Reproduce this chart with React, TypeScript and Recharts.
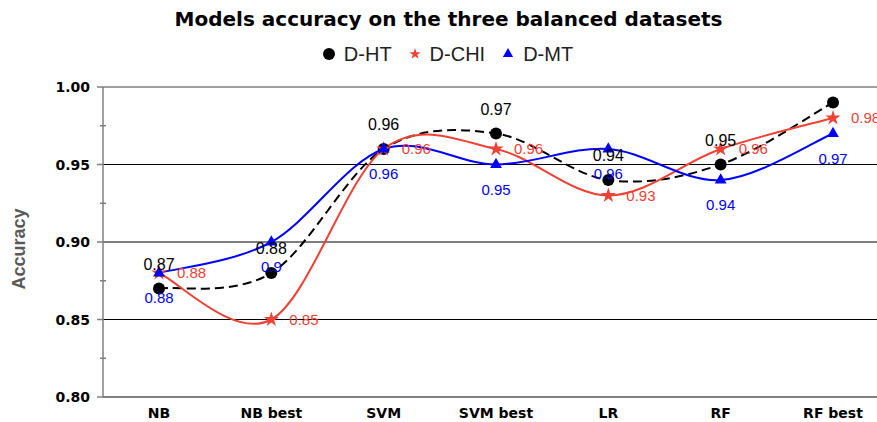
import React from 'react';
import { LineChart, Line, XAxis, YAxis, ReferenceLine, LabelList, Symbols } from 'recharts';

// values
const categories = ['NB', 'NB best', 'SVM', 'SVM best', 'LR', 'RF', 'RF best'];
const dHT = [0.87, 0.88, 0.96, 0.97, 0.94, 0.95, 0.99];
const dCHI = [0.88, 0.85, 0.96, 0.96, 0.93, 0.96, 0.98];
const dMT = [0.88, 0.9, 0.96, 0.95, 0.96, 0.94, 0.97];
const htLabelShown = [true, true, true, true, true, true, false];

const yTicks = [0.8, 0.825, 0.85, 0.875, 0.9, 0.925, 0.95, 0.975, 1.0];
const yMajor = [0.8, 0.85, 0.9, 0.95, 1.0];
const gridLines = [0.85, 0.9, 0.95];

const BLACK = '#000000';
const RED = '#EF4136';
const BLUE = '#0000FF';
const AXIS_GRAY = '#7f7f7f';

const data = categories.map((name, i) => ({ name, ht: dHT[i], chi: dCHI[i], mt: dMT[i] }));

// Excel-like smoothed line (catmull-rom style bezier through every point)
const excelSmooth = (context: any) => {
  let pts: number[][] = [];
  return {
    areaStart() {},
    areaEnd() {},
    lineStart() {
      pts = [];
    },
    point(x: number, y: number) {
      pts.push([+x, +y]);
    },
    lineEnd() {
      if (!pts.length) return;
      context.moveTo(pts[0][0], pts[0][1]);
      for (let i = 0; i < pts.length - 1; i++) {
        const p0 = pts[Math.max(0, i - 1)];
        const p1 = pts[i];
        const p2 = pts[i + 1];
        const p3 = pts[Math.min(pts.length - 1, i + 2)];
        context.bezierCurveTo(
          p1[0] + (p2[0] - p0[0]) / 6,
          p1[1] + (p2[1] - p0[1]) / 6,
          p2[0] - (p3[0] - p1[0]) / 6,
          p2[1] - (p3[1] - p1[1]) / 6,
          p2[0],
          p2[1]
        );
      }
    },
  };
};

const YTick = (props: any) => {
  const { x, y, payload } = props;
  const v = payload.value;
  const isMajor = yMajor.some((m) => Math.abs(m - v) < 1e-6);
  const axisX = x + 13;
  if (!isMajor) {
    return <line x1={axisX - 3} x2={axisX + 3} y1={y} y2={y} stroke={AXIS_GRAY} strokeWidth={1.5} />;
  }
  return (
    <g>
      <line x1={axisX - 6} x2={axisX} y1={y} y2={y} stroke={AXIS_GRAY} strokeWidth={1.5} />
      <text x={x} y={y} dy={5} textAnchor="end" fontFamily="DejaVu Sans" fontWeight="bold" fontSize={14} fill="#000">
        {v.toFixed(2)}
      </text>
    </g>
  );
};

const XTick = (props: any) => {
  const { x, y, payload } = props;
  return (
    <text x={x} y={y} dy={10} textAnchor="middle" fontFamily="DejaVu Sans" fontWeight="bold" fontSize={14} fill="#000">
      {payload.value}
    </text>
  );
};

const pos = (props: any) => {
  const vb = props.viewBox || {};
  return { px: vb.x ?? props.x, py: vb.y ?? props.y };
};

const htLabel = (props: any) => {
  const { px, py } = pos(props);
  if (!htLabelShown[props.index]) return null;
  return (
    <text x={px} y={py - 19} textAnchor="middle" fontFamily="Liberation Sans" fontSize={16} fill={BLACK}>
      {props.value}
    </text>
  );
};

const chiLabel = (props: any) => {
  const { px, py } = pos(props);
  return (
    <text x={px + 18} y={py + 5} textAnchor="start" fontFamily="Liberation Sans" fontSize={15} fill={RED}>
      {props.value}
    </text>
  );
};

const mtLabel = (props: any) => {
  const { px, py } = pos(props);
  return (
    <text x={px} y={py + 30} textAnchor="middle" fontFamily="Liberation Sans" fontSize={15} fill={BLUE}>
      {props.value}
    </text>
  );
};

const LegendIcon = ({ kind, color }: { kind: 'circle' | 'star' | 'triangle'; color: string }) => (
  <svg width={14} height={14} style={{ display: 'block' }}>
    {kind === 'circle' ? (
      <circle cx={7} cy={7} r={6} fill={color} />
    ) : (
      <Symbols cx={7} cy={7} type={kind} size={kind === 'star' ? 40 : 45} fill={color} />
    )}
  </svg>
);

const legendItems = [
  { name: 'D-HT', kind: 'circle' as const, color: BLACK },
  { name: 'D-CHI', kind: 'star' as const, color: RED },
  { name: 'D-MT', kind: 'triangle' as const, color: BLUE },
];

export default function App() {
  return (
    <div style={{ position: 'absolute', left: 0, top: 0, width: 877, height: 422, overflow: 'hidden', background: '#fff' }}>
      <div
        style={{
          position: 'absolute',
          left: 0,
          top: 9,
          width: 897,
          textAlign: 'center',
          fontFamily: 'DejaVu Sans',
          fontWeight: 'bold',
          fontSize: 20,
          lineHeight: '20px',
          color: '#000',
        }}
      >
        Models accuracy on the three balanced datasets
      </div>
      <div
        style={{
          position: 'absolute',
          left: 0,
          top: 44,
          width: 895,
          display: 'flex',
          justifyContent: 'center',
          gap: 16,
          fontFamily: 'Liberation Sans',
          fontSize: 20,
          lineHeight: '20px',
          color: '#222',
        }}
      >
        {legendItems.map((it) => (
          <div key={it.name} style={{ display: 'flex', alignItems: 'center' }}>
            <LegendIcon kind={it.kind} color={it.color} />
            <span style={{ marginLeft: 8 }}>{it.name}</span>
          </div>
        ))}
      </div>
      <LineChart width={892} height={422} data={data} margin={{ top: 87, right: 3, left: 43, bottom: 0 }}>
        <XAxis
          dataKey="name"
          height={25}
          padding={{ left: 56, right: 56 }}
          axisLine={{ stroke: AXIS_GRAY, strokeWidth: 2 }}
          tickLine={false}
          tickSize={0}
          tickMargin={11}
          tick={<XTick />}
          interval={0}
        />
        <YAxis
          width={60}
          domain={[0.8, 1]}
          ticks={yTicks}
          interval={0}
          allowDataOverflow
          axisLine={{ stroke: AXIS_GRAY, strokeWidth: 1.5 }}
          tickLine={false}
          tickSize={6}
          tickMargin={7}
          tick={<YTick />}
          label={{
            content: () => (
              <text
                x={19}
                y={249}
                transform="rotate(-90 19 249)"
                textAnchor="middle"
                dominantBaseline="central"
                fontFamily="Liberation Sans"
                fontWeight="bold"
                fontSize={18}
                fill="#595959"
              >
                Accuracy
              </text>
            ),
          }}
        />
        {gridLines.map((g) => (
          <ReferenceLine key={g} y={g} stroke="#000" strokeWidth={1} />
        ))}
        <ReferenceLine y={1} stroke={AXIS_GRAY} strokeWidth={1.5} />
        <Line
          dataKey="ht"
          type={excelSmooth as any}
          stroke={BLACK}
          strokeWidth={2}
          strokeDasharray="9 5"
          isAnimationActive={false}
          dot={(p: any) => <circle key={`ht-${p.index}`} cx={p.cx} cy={p.cy} r={6} fill={BLACK} />}
        >
          <LabelList dataKey="ht" content={htLabel} />
        </Line>
        <Line
          dataKey="chi"
          type={excelSmooth as any}
          stroke={RED}
          strokeWidth={2}
          isAnimationActive={false}
          dot={(p: any) => <Symbols key={`chi-${p.index}`} cx={p.cx} cy={p.cy} type="star" size={70} fill={RED} />}
        >
          <LabelList dataKey="chi" content={chiLabel} />
        </Line>
        <Line
          dataKey="mt"
          type={excelSmooth as any}
          stroke={BLUE}
          strokeWidth={2}
          isAnimationActive={false}
          dot={(p: any) => <Symbols key={`mt-${p.index}`} cx={p.cx} cy={p.cy} type="triangle" size={60} fill={BLUE} />}
        >
          <LabelList dataKey="mt" content={mtLabel} />
        </Line>
      </LineChart>
    </div>
  );
}
